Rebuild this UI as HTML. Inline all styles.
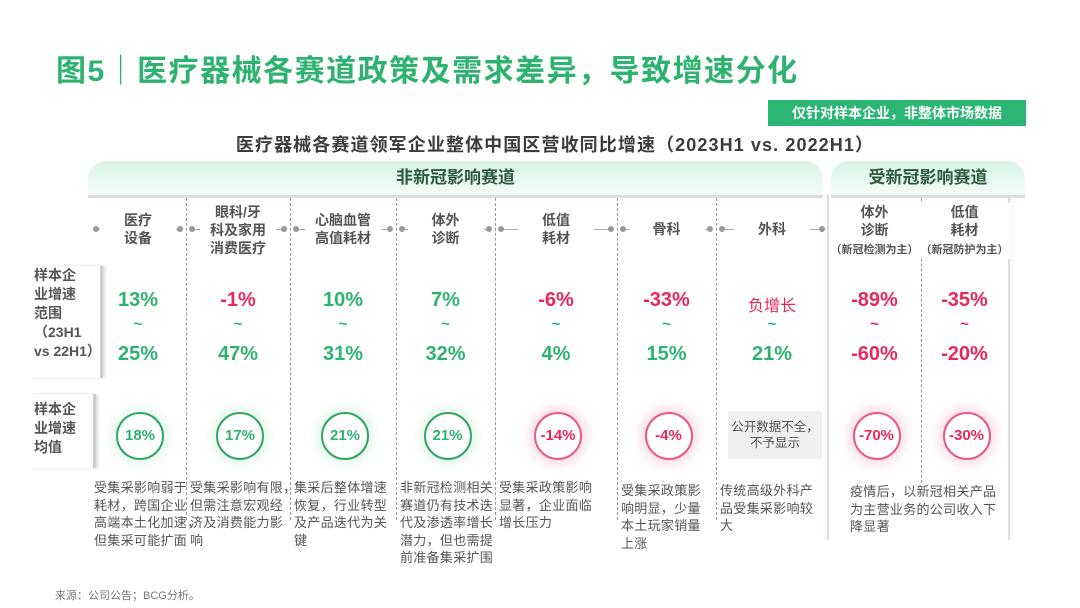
<!DOCTYPE html>
<html><head><meta charset="utf-8"><style>
body{margin:0;width:1080px;height:608px;background:#fff;position:relative;overflow:hidden;font-family:"Liberation Sans","Noto Sans CJK SC",sans-serif;color:#444}
.a{position:absolute}
.c{text-align:center}
.title{left:56px;top:46px;font-size:30px;font-weight:bold;color:#2db36f;letter-spacing:1.5px;white-space:nowrap}
.tag{left:768px;top:100px;width:258px;height:26px;background:#2bb673;color:#fff;font-size:14px;font-weight:bold;line-height:26px;text-align:center}
.sub{left:0;width:1110px;top:131px;font-size:18px;font-weight:bold;color:#3c3c3c;text-align:center;letter-spacing:1.1px;white-space:nowrap}
.band{top:161px;height:34px;border-radius:18px 18px 0 0;background:linear-gradient(#d9f5e6,#f4fbf7);border-bottom:3px solid #ddd;color:#2a5a3a;font-size:17px;font-weight:bold;line-height:34px}
.hdr{font-size:14px;font-weight:bold;color:#555;line-height:18px;white-space:nowrap}
.num{font-size:20px;font-weight:bold}
.g{color:#2db36f}.r{color:#e8285a}
.circ{width:44px;height:44px;border-radius:50%;background:#fff;font-size:15px;font-weight:bold;line-height:44px;text-align:center}
.cg{border:2px solid #2fa863;color:#2db36f;box-shadow:0 0 10px 4px #e2f6ea}
.cr{border:2px solid #e8588a;color:#e8285a;box-shadow:0 0 10px 5px #fbdde8}
.desc{font-size:13px;line-height:17.5px;color:#555;white-space:nowrap;letter-spacing:0.3px}
.sep{width:0;border-left:1px dashed #999}
.lab{font-size:14px;font-weight:bold;color:#555;line-height:19px;background:#fff;border-right:3px solid #ccc;box-shadow:2px 0 3px #ddd;white-space:nowrap}
</style></head><body>
<div class="a title">图5｜医疗器械各赛道政策及需求差异，导致增速分化</div>
<div class="a tag">仅针对样本企业，非整体市场数据</div>
<div class="a sub">医疗器械各赛道领军企业整体中国区营收同比增速（2023H1 vs. 2022H1）</div>
<div class="a band c" style="left:88px;width:735px">非新冠影响赛道</div>
<div class="a band c" style="left:831px;width:194px">受新冠影响赛道</div>
<div class="a" style="left:827px;top:195px;height:345px;border-left:2px solid #ddd;box-shadow:-2px 0 3px #eee"></div>
<div class="a" style="left:1008px;top:195px;height:345px;border-left:2px solid #ddd;box-shadow:2px 0 3px #eee"></div>
<div class="a lab" style="left:30px;top:266px;width:66px;height:112px;padding-left:4px">样本企<br>业增速<br>范围<br>（23H1<br>vs 22H1）</div>
<div class="a lab" style="left:30px;top:394px;width:66px;height:74px;padding:6px 0 0 4px;box-sizing:border-box">样本企<br>业增速<br>均值</div>
<div class="a" style="left:55px;top:587px;font-size:11px;color:#777">来源：公司公告；BCG分析。</div>
<div id="cols"></div>
<script>
const names=["医疗<br>设备","眼科/牙<br>科及家用<br>消费医疗","心脑血管<br>高值耗材","体外<br>诊断","低值<br>耗材","骨科","外科","体外<br>诊断<br><span style='font-size:11px'>（新冠检测为主）</span>","低值<br>耗材<br><span style='font-size:11px'>（新冠防护为主）</span>"];
const lows=["13%","-1%","10%","7%","-6%","-33%","负增长","-89%","-35%"];
const highs=["25%","47%","31%","32%","4%","15%","21%","-60%","-20%"];
const means=["18%","17%","21%","21%","-14%","-4%",null,"-70%","-30%"];
const descs=["受集采影响弱于<br>耗材，跨国企业<br>高端本土化加速，<br>但集采可能扩面","受集采影响有限，<br>但需注意宏观经<br>济及消费能力影<br>响","集采后整体增速<br>恢复，行业转型<br>及产品迭代为关<br>键","非新冠检测相关<br>赛道仍有技术迭<br>代及渗透率增长<br>潜力，但也需提<br>前准备集采扩围","受集采政策影响<br>显著，企业面临<br>增长压力","受集采政策影<br>响明显，少量<br>本土玩家销量<br>上涨","传统高级外科产<br>品受集采影响较<br>大","疫情后，以新冠相关产品<br>为主营业务的公司收入下<br>降显著",""];
const edges=[90,186,290,396,495,617,716,828,921,1008];
const root=document.getElementById('cols');
function mk(cls,l,t,w,h,html){const d=document.createElement('div');d.className='a '+cls;d.style.left=l+'px';d.style.top=t+'px';if(w)d.style.width=w+'px';if(h)d.style.height=h+'px';d.innerHTML=html||'';root.appendChild(d);return d;}
[1,2,3,4,5,6,8].forEach(i=>{const s=mk('sep',edges[i],198,0,(i==8?285:322));});
for(let i=0;i<9;i++){
 const l=edges[i],w=edges[i+1]-l,cx=l+w/2;
 const ln=mk('',l+6,229,w-12,1,'');ln.style.borderTop='1px solid #aaa';
 
 
 ['left','right'].forEach(side=>{const d=mk('',side=='left'?l+3:l+w-9,226,6,6,'');d.style.borderRadius='50%';d.style.background='#999';});
 const lines=(names[i].match(/<br>/g)||[]).length+1;
 const hw=i>=7?92:76;
 const h=mk('hdr c',cx-hw/2,(i==1||i>=7?203:229-lines*9),hw,0,names[i]);h.style.background='#fff';
 
 
 const neg1=lows[i].startsWith('-')||lows[i]=='负增长';
 const a=mk('num c '+(neg1?'r':'g'),l,289,w,0,lows[i]);if(lows[i]=='负增长'){a.style.fontSize='16px';a.style.fontWeight='normal';a.style.top='292px';}
 
 
 const t=mk('num c '+(i>=7?'r':'g'),l,316,w,0,'~');t.style.fontSize='15px';
 const b=mk('num c '+(highs[i].startsWith('-')?'r':'g'),l,343,w,0,highs[i]);
 
 
 if(means[i]!==null){const c=mk('circ '+(means[i].startsWith('-')?'cr':'cg'),cx-22,412,0,0,means[i]);c.style.width='44px';c.style.height='44px';
  
  }
 else{const g=mk('c',728,411,94,48,'公开数据不全，<br>不予显示');g.style.background='#f0f0f0';g.style.fontSize='12.5px';g.style.lineHeight='16px';g.style.paddingTop='8px';g.style.boxSizing='border-box';g.style.color='#555';
  
  }
 if(descs[i]){const d=mk('desc',i==7?850:l+4,i==7?483:(i>=5?482:479),0,0,descs[i]);
  
  }
}
</script>
</body></html>
